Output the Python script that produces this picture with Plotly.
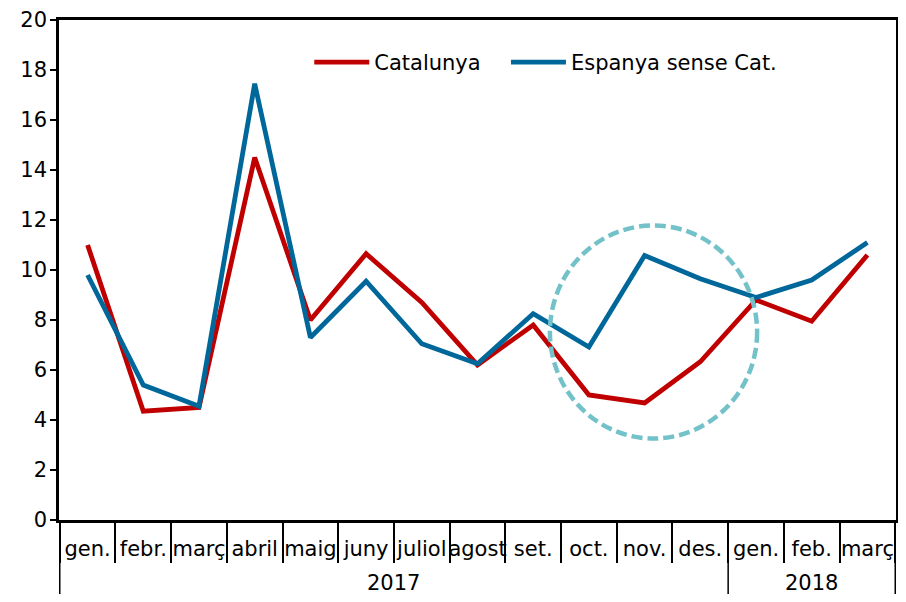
import plotly.graph_objects as go

years = ["2017"] * 12 + ["2018"] * 3
months = ["gen.", "febr.", "març", "abril", "maig", "juny", "juliol", "agost",
          "set.", "oct.", "nov.", "des.", "gen.", "feb.", "març"]
year_labels = ["2017", "2018"]
catalunya = [11.0, 4.35, 4.5, 14.5, 8.0, 10.65, 8.7, 6.2, 7.8, 5.0, 4.68, 6.33, 8.8, 7.95, 10.6]
espanya = [9.8, 5.4, 4.55, 17.45, 7.3, 9.55, 7.05, 6.25, 8.25, 6.92, 10.58, 9.65, 8.9, 9.6, 11.1]

keys = [f"{m} {y}" for m, y in zip(months, years)]

RED = "#C00000"
BLUE = "#00679A"
CIRCLE = "#74C2C9"
FONT = "DejaVu Sans, Liberation Sans, Arial, sans-serif"
FS = 21

fig = go.Figure()
fig.add_trace(go.Scatter(x=keys, y=catalunya, mode="lines", name="Catalunya",
                         line=dict(color=RED, width=4.8), legend="legend"))
fig.add_trace(go.Scatter(x=keys, y=espanya, mode="lines", name="Espanya sense Cat.",
                         line=dict(color=BLUE, width=4.8), legend="legend2"))

# highlight ellipse (annotation)
fig.add_shape(type="circle", xref="x", yref="y",
              x0=10.16 - 1.86, x1=10.16 + 1.86, y0=7.52 - 4.26, y1=7.52 + 4.26,
              line=dict(color=CIRCLE, width=4.5, dash="11px,5px"), layer="above")

# year group dividers below the axis
n = len(months)
first_2018 = years.index("2018")
for xb in [-0.5, first_2018 - 0.5, n - 0.5]:
    fig.add_shape(type="line", xref="x", yref="paper", x0=xb, x1=xb, y0=0, y1=-0.2,
                  line=dict(color="black", width=1.5), layer="above")

# year labels
for yl in year_labels:
    idx = [i for i, y in enumerate(years) if y == yl]
    fig.add_annotation(x=(idx[0] + idx[-1]) / 2, xref="x", y=-0.126, yref="paper",
                       text=yl, showarrow=False, yanchor="middle",
                       font=dict(size=FS, family=FONT, color="black"))

legend_common = dict(orientation="h", y=0.915, xanchor="left", yanchor="middle",
                     bgcolor="rgba(0,0,0,0)", font=dict(size=FS, family=FONT),
                     itemwidth=55)

# page body has an 8px margin: compensate so the plot area lands where the reference has it
fig.update_layout(
    width=890, height=586,
    margin=dict(l=51, r=2, t=12, b=74, autoexpand=False),
    paper_bgcolor="white", plot_bgcolor="white",
    font=dict(family=FONT, size=FS, color="#000000"),
    showlegend=True,
    legend=dict(x=0.299, **legend_common),
    legend2=dict(x=0.534, **legend_common),
    xaxis=dict(type="category", tickmode="array", tickvals=keys, ticktext=months,
               tickson="boundaries", showline=True, linecolor="black", linewidth=2.5,
               mirror=True, ticks="outside", ticklen=40, tickcolor="black", tickwidth=1.5,
               ticklabelstandoff=8, tickangle=0, automargin=False,
               showgrid=False, tickfont=dict(size=FS, family=FONT)),
    yaxis=dict(range=[0, 20], dtick=2, showline=True, linecolor="black", linewidth=2.5,
               mirror=True, ticks="outside", ticklen=6, tickcolor="black", tickwidth=2,
               automargin=False, ticklabelstandoff=-1,
               showgrid=False, zeroline=False, tickfont=dict(size=FS, family=FONT)),
)

fig.write_html("out.html")
